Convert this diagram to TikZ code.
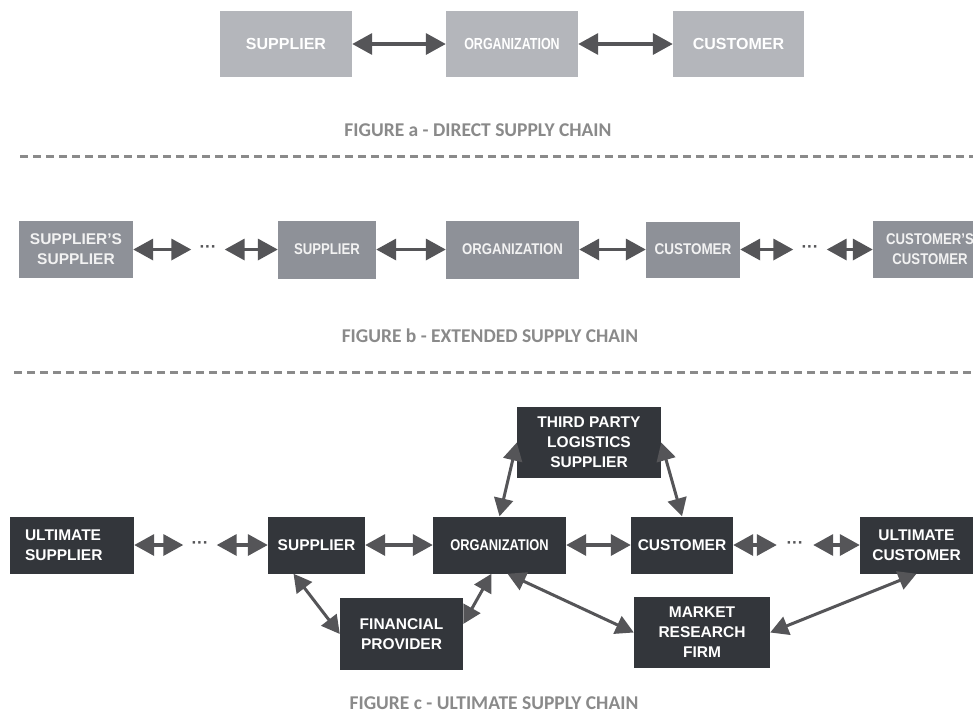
\documentclass[tikz,border=0pt]{standalone}
\usepackage{fontspec}
\usepackage{graphicx}
\setmainfont{Liberation Sans}
\newfontfamily\capfont{Carlito}
\usetikzlibrary{arrows.meta}
\definecolor{lightbox}{HTML}{B4B6BB}
\definecolor{midbox}{HTML}{8E9198}
\definecolor{darkbox}{HTML}{33363B}
\definecolor{arrowgrey}{HTML}{555558}
\definecolor{capgrey}{HTML}{8A8A8A}
\definecolor{dashgrey}{HTML}{8A8A8A}
\begin{document}
\begin{tikzpicture}[%
            x=1pt, y=-1pt,
            myboxa/.style={fill=lightbox, text=white, inner sep=0pt, minimum height=66pt,
                align=center, font=\fontsize{16}{20}\selectfont\bfseries},
            myboxb/.style={fill=midbox, text=white!95!black, inner sep=0pt, minimum height=58pt,
                align=center, font=\fontsize{15.5}{20}\selectfont\bfseries},
            myboxc/.style={fill=darkbox, text=white, inner sep=0pt, minimum height=57pt,
                align=center, font=\fontsize{15.5}{20}\selectfont\bfseries},
            mydots/.style={inner sep=0pt, minimum width=33pt, minimum height=20pt, text=arrowgrey,
                font=\fontsize{17}{17}\selectfont\bfseries},
            myarrow/.style={draw=arrowgrey, line width=3.5pt,
                {Triangle[length=20pt,width=21pt]}-{Triangle[length=20pt,width=21pt]}},
            mydiag/.style={draw=arrowgrey, line width=3pt,
                {Triangle[length=18pt,width=19pt]}-{Triangle[length=18pt,width=19pt]}},
            mycaption/.style={text=capgrey, font=\capfont\fontsize{19.5}{22}\selectfont\bfseries},
            mydash/.style={draw=dashgrey, line width=3pt, dash pattern=on 8pt off 5pt}
    ]
        \clip (0,0) rectangle (973,724);
        \fill [white] (0,0) rectangle (973,724);

        \node [myboxa, minimum width=132pt] (aSup) at (286,44) {SUPPLIER};
        \node [myboxa, minimum width=132pt] (aOrg) at (512,44) {\scalebox{0.78}[1]{ORGANIZATION}};
        \node [myboxa, minimum width=131pt] (aCus) at (738.5,44) {CUSTOMER};
        \draw [myarrow] (aSup) -- (aOrg);
        \draw [myarrow] (aOrg) -- (aCus);
        \node [mycaption] (aCap) at (478,130) {FIGURE a - DIRECT SUPPLY CHAIN};

        \draw [mydash] (20,156) -- (973,156);

        \node [myboxb, minimum width=114pt, minimum height=57pt] (bSupSup) at (76,249.5) {SUPPLIER'S\\SUPPLIER};
        \node [mydots] (bDotsA) at (208,249.5) {···};
        \node [myboxb, minimum width=98pt] (bSup) at (327,249.5) {\scalebox{0.85}[1]{SUPPLIER}};
        \node [myboxb, minimum width=133pt] (bOrg) at (512.5,249.5) {\scalebox{0.85}[1]{ORGANIZATION}};
        \node [myboxb, minimum width=94pt, minimum height=56pt] (bCus) at (693,249.5) {\scalebox{0.87}[1]{CUSTOMER}};
        \node [mydots] (bDotsB) at (810,249.5) {···};
        \node [myboxb, minimum width=114pt, minimum height=57pt] (bCusCus) at (930,249.5)
            {\scalebox{0.85}[1]{CUSTOMER'S}\\\scalebox{0.85}[1]{CUSTOMER}};
        \draw [myarrow] (bSupSup) -- (bDotsA);
        \draw [myarrow] (bDotsA) -- (bSup);
        \draw [myarrow] (bSup) -- (bOrg);
        \draw [myarrow] (bOrg) -- (bCus);
        \draw [myarrow] (bCus) -- (bDotsB);
        \draw [myarrow] (bDotsB) -- (bCusCus);
        \node [mycaption] (bCap) at (490,336) {FIGURE b - EXTENDED SUPPLY CHAIN};

        \draw [mydash] (14,372) -- (973,372);

        \node [myboxc, minimum width=124pt, text width=94pt, inner xsep=15pt, align=left] (cUltSup) at (72,545) {ULTIMATE\\SUPPLIER};
        \node [mydots] (cDotsA) at (200,545) {···};
        \node [myboxc, minimum width=97pt] (cSup) at (316.5,545) {SUPPLIER};
        \node [myboxc, minimum width=133pt] (cOrg) at (499.5,545) {\scalebox{0.83}[1]{ORGANIZATION}};
        \node [myboxc, minimum width=102pt] (cCus) at (682,545) {CUSTOMER};
        \node [mydots, minimum width=36pt] (cDotsB) at (795,545) {···};
        \node [myboxc, minimum width=113pt] (cUltCus) at (916.5,545) {ULTIMATE\\CUSTOMER};
        \node [myboxc, minimum width=144pt, minimum height=71pt] (cThird) at (589,442.5) {THIRD PARTY\\LOGISTICS\\SUPPLIER};
        \node [myboxc, minimum width=123pt, minimum height=72pt] (cFin) at (401.5,634) {FINANCIAL\\PROVIDER};
        \node [myboxc, minimum width=136pt, minimum height=71pt] (cMarket) at (702,632.5) {MARKET\\RESEARCH\\FIRM};
        \draw [myarrow] (cUltSup) -- (cDotsA);
        \draw [myarrow] (cDotsA) -- (cSup);
        \draw [myarrow] (cSup) -- (cOrg);
        \draw [myarrow] (cOrg) -- (cCus);
        \draw [myarrow] (cCus) -- (cDotsB);
        \draw [myarrow] (cDotsB) -- (cUltCus);
        \draw [mydiag] (cOrg.north) -- (cThird.west);
        \draw [mydiag] (cCus.north) -- (cThird.east);
        \draw [mydiag] ([xshift=-23pt]cSup.south) -- (cFin.west);
        \draw [mydiag] ([yshift=10pt]cFin.east) -- ([xshift=-8pt]cOrg.south);
        \draw [mydiag] ([xshift=8pt]cOrg.south) -- (cMarket.west);
        \draw [mydiag] (cMarket.east) -- (cUltCus.south);
        \node [mycaption] (cCap) at (494,703) {FIGURE c - ULTIMATE SUPPLY CHAIN};
    \end{tikzpicture}
\end{document}
